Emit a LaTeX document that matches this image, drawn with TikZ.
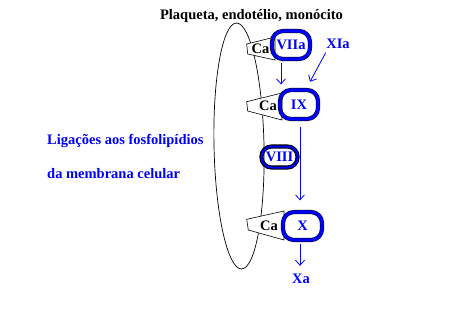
\documentclass[tikz,border=0pt]{standalone}
\usepackage{fontspec}
\setmainfont{Liberation Serif}
\usetikzlibrary{arrows.meta}
\definecolor{fblue}{RGB}{0,0,255}
\begin{document}
\begin{tikzpicture}[x=1pt,y=-1pt,
  lbl/.style={font=\fontsize{14.5}{17}\selectfont\bfseries, inner sep=0pt},
  blob/.style={draw=fblue, line width=3.2pt, rounded corners=11pt, inner sep=0pt,
    text=fblue, preaction={draw=black, line width=4.2pt},
    font=\fontsize{14.5}{17}\selectfont\bfseries, text height=9.6pt, text depth=0pt},
  smallblob/.style={blob, line width=2pt, rounded corners=10pt,
    preaction={draw=black, line width=2.8pt}},
  arr/.style={draw=fblue, line width=0.8pt, -{Straight Barb[length=5pt,width=9pt]}},
  trap/.style={draw=black, fill=white, line width=0.6pt}]
\useasboundingbox (0,0) rectangle (449,327);
% membrane
\draw[line width=0.7pt, rotate around={1.2:(239,146)}] (239,146) ellipse [x radius=25, y radius=123];
% Ca wedges
\draw[trap] (246.7,44) -- (275,37) -- (275,60) -- (247.7,54) -- cycle;
\draw[trap] (246.7,101.7) -- (282,93) -- (282,120) -- (247.7,111) -- cycle;
\draw[trap] (246.7,219.3) -- (284,211) -- (284,240) -- (248.3,230) -- cycle;
% factors
\node[blob, minimum width=38pt, minimum height=28pt] (VIIa) at (291,45) {VIIa};
\node[blob, minimum width=38pt, minimum height=29pt] (IX) at (299,104.5) {IX};
\node[blob, minimum width=39pt, minimum height=28pt] (X) at (302.5,226) {X};
\node[smallblob, minimum width=36pt, minimum height=21pt] (VIII) at (279.5,157) {VIII};
% Ca labels
\node[lbl, anchor=base] (ca1) at (260.5,53) {Ca};
\node[lbl, anchor=base] (ca2) at (268,110) {Ca};
\node[lbl, anchor=base] (ca3) at (269,230) {Ca};
% texts
\node[lbl, anchor=base] (title) at (251.5,19) {Plaqueta, endotélio, monócito};
\node[lbl, text=fblue, anchor=base west] (lig1) at (47,144) {Ligações aos fosfolipídios};
\node[lbl, text=fblue, anchor=base west] (lig2) at (47,178) {da membrana celular};
\node[lbl, text=fblue, anchor=base] (XIa) at (338,48) {XIa};
\node[lbl, text=fblue, anchor=base] (Xa) at (301,283) {Xa};
% arrows
\draw[arr] ([xshift=-10pt,yshift=-2pt]VIIa.south) -- ([xshift=-18pt,yshift=4pt]IX.north);
\draw[arr] ([xshift=-12.3pt,yshift=-4.3pt]XIa.south) -- ([xshift=11pt,yshift=6.7pt]IX.north);
\draw[arr] ([xshift=1pt,yshift=-6pt]IX.south) -- ([xshift=-2.5pt,yshift=10pt]X.north);
\draw[arr] ([xshift=-2.5pt,yshift=-2pt]X.south) -- ([xshift=-1pt,yshift=7.5pt]Xa.north);
\end{tikzpicture}
\end{document}
